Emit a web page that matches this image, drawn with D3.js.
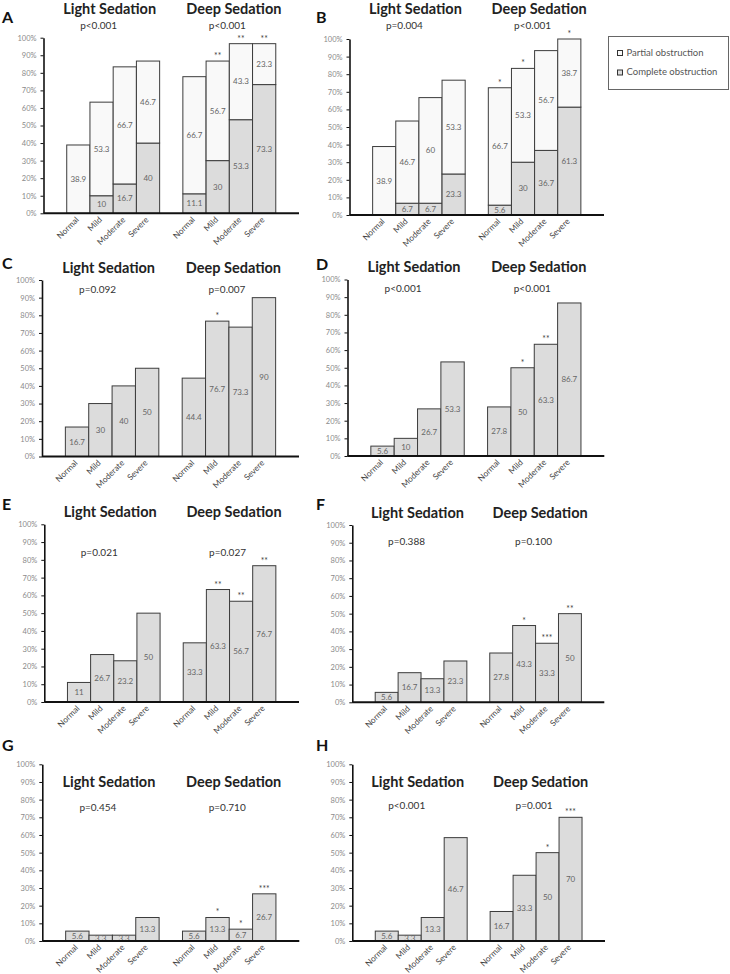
<!DOCTYPE html>
<html>
<head>
<meta charset="utf-8">
<script src="https://cdn.jsdelivr.net/npm/d3@7"></script>
<style>
  body { margin: 0; background: #fff; }
  text { font-family: Lato, "Open Sans", sans-serif; }
</style>
</head>
<body>
<svg id="chart" width="730" height="974"></svg>
<script>

// categories / groups
const cats = ['Normal', 'Mild', 'Moderate', 'Severe'];
const groups = ['Light Sedation', 'Deep Sedation'];
const yTicks = [0, 10, 20, 30, 40, 50, 60, 70, 80, 90, 100];
const legendItems = ['Partial obstruction', 'Complete obstruction'];

// A: stacked, complete + partial
const aLightComplete = [0, 10, 16.7, 40];
const aLightPartial  = [38.9, 53.3, 66.7, 46.7];
const aDeepComplete  = [11.1, 30, 53.3, 73.3];
const aDeepPartial   = [66.7, 56.7, 43.3, 23.3];
const aP = ['p<0.001', 'p<0.001'];
const aStars = ['', '**', '**', '**'];

// B: stacked
const bLightComplete = [0, 6.7, 6.7, 23.3];
const bLightPartial  = [38.9, 46.7, 60, 53.3];
const bDeepComplete  = [5.6, 30, 36.7, 61.3];
const bDeepPartial   = [66.7, 53.3, 56.7, 38.7];
const bP = ['p=0.004', 'p<0.001'];
const bStars = ['*', '*', '', '*'];

// C - H: single series
const cLight = [16.7, 30, 40, 50];
const cDeep  = [44.4, 76.7, 73.3, 90];
const cP = ['p=0.092', 'p=0.007'];
const cStars = ['', '*', '', ''];

const dLight = [5.6, 10, 26.7, 53.3];
const dDeep  = [27.8, 50, 63.3, 86.7];
const dP = ['p<0.001', 'p<0.001'];
const dStars = ['', '*', '**', ''];

const eLight = [11, 26.7, 23.2, 50];
const eDeep  = [33.3, 63.3, 56.7, 76.7];
const eP = ['p=0.021', 'p=0.027'];
const eStars = ['', '**', '**', '**'];

const fLight = [5.6, 16.7, 13.3, 23.3];
const fDeep  = [27.8, 43.3, 33.3, 50];
const fP = ['p=0.388', 'p=0.100'];
const fStars = ['', '*', '***', '**'];

const gLight = [5.6, 3.3, 3.3, 13.3];
const gDeep  = [5.6, 13.3, 6.7, 26.7];
const gP = ['p=0.454', 'p=0.710'];
const gStars = ['', '*', '*', '***'];

// H: bar heights as drawn, printed labels differ for two bars
const hLight = [5.6, 3.3, 13.3, 58.5];
const hLightLabels = ['5.6', '3.3', '13.3', '46.7'];
const hDeep  = [16.7, 37.2, 50, 70];
const hDeepLabels = ['16.7', '33.3', '50', '70'];
const hP = ['p<0.001', 'p=0.001'];
const hStars = ['', '', '*', '***'];

const panels = [
    {id: 'A', light: [aLightComplete, aLightPartial], deep: [aDeepComplete, aDeepPartial], p: aP, stars: aStars},
    {id: 'B', light: [bLightComplete, bLightPartial], deep: [bDeepComplete, bDeepPartial], p: bP, stars: bStars},
    {id: 'C', light: [cLight], deep: [cDeep], p: cP, stars: cStars},
    {id: 'D', light: [dLight], deep: [dDeep], p: dP, stars: dStars},
    {id: 'E', light: [eLight], deep: [eDeep], p: eP, stars: eStars},
    {id: 'F', light: [fLight], deep: [fDeep], p: fP, stars: fStars},
    {id: 'G', light: [gLight], deep: [gDeep], p: gP, stars: gStars},
    {id: 'H', light: [hLight], deep: [hDeep], p: hP, stars: hStars,
        lightLabels: [hLightLabels], deepLabels: [hDeepLabels]}
];

// layout per panel (pixels)
const layout = {
    A: {x0: 43.5, x1: 299, yTop: 37.7, yBase: 213.3, titleY: 13.5, pY: 29, letterX: 2, letterY: 23},
    B: {x0: 349.5, x1: 604, yTop: 39, yBase: 215, titleY: 13.5, pY: 29, letterX: 316, letterY: 23},
    C: {x0: 42, x1: 299, yTop: 280, yBase: 456.5, titleY: 272.7, pY: 293.3, letterX: 2, letterY: 269},
    D: {x0: 347.5, x1: 604.3, yTop: 279.5, yBase: 456, titleY: 271.7, pY: 291.7, letterX: 316, letterY: 270},
    E: {x0: 44.3, x1: 299, yTop: 524.3, yBase: 702, titleY: 516.7, pY: 555.7, letterX: 2, letterY: 510},
    F: {x0: 352.3, x1: 604.3, yTop: 525, yBase: 702.3, titleY: 518, pY: 545, letterX: 316, letterY: 510},
    G: {x0: 42.3, x1: 299.3, yTop: 764.3, yBase: 941, titleY: 786.7, pY: 811, letterX: 2, letterY: 751},
    H: {x0: 352.3, x1: 605, yTop: 764.3, yBase: 941, titleY: 787.3, pY: 809, letterX: 316, letterY: 751}
};

const fills = ['#dcdcdc', '#f9f9f9'];   // complete, partial
const svg = d3.select('#chart');

panels.forEach(p => drawPanel(p, layout[p.id]));
drawLegend();


function drawPanel (p, lay) {
    const g = svg.append('g').attr('class', 'panel-' + p.id);

    const keys = ['padL'].concat(cats.map(c => 'L' + c), ['gap'], cats.map(c => 'D' + c), ['padR']);
    const x = d3.scaleBand().domain(keys).range([lay.x0, lay.x1]);
    const y = d3.scaleLinear().domain([0, 100]).range([lay.yBase, lay.yTop]);
    const bw = x.bandwidth();

    // y axis
    const ax = g.append('g')
        .attr('transform', `translate(${lay.x0},0)`)
        .call(d3.axisLeft(y).tickValues(yTicks).tickFormat(d => d + '%').tickSize(3).tickSizeOuter(0).tickPadding(4));
    ax.select('.domain').attr('stroke', '#111').attr('stroke-width', 1.6);
    ax.selectAll('.tick line').attr('stroke', '#111');
    ax.selectAll('.tick text')
        .attr('font-family', 'Lato, sans-serif')
        .attr('font-size', 7.5)
        .attr('fill', '#8a8a8a');

    // bars
    [['L', p.light, p.lightLabels], ['D', p.deep, p.deepLabels]].forEach(([pre, series, labels]) => {
        cats.forEach((c, i) => {
            const cx = x(pre + c) + bw / 2;
            let base = 0;
            series.forEach((s, k) => {
                const v = s[i];
                if (v <= 0) return;
                const fill = series.length === 1 ? fills[0] : fills[k];
                g.append('rect')
                    .attr('x', x(pre + c))
                    .attr('y', y(base + v))
                    .attr('width', bw)
                    .attr('height', y(base) - y(base + v))
                    .attr('fill', fill)
                    .attr('stroke', '#3c3c3c')
                    .attr('stroke-width', 1);
                g.append('text')
                    .attr('x', cx)
                    .attr('y', y(base + v / 2))
                    .attr('dy', '0.35em')
                    .attr('text-anchor', 'middle')
                    .attr('font-size', 8)
                    .attr('fill', '#666')
                    .text(labels ? labels[k][i] : String(v));
                base += v;
            });
            const star = pre === 'D' ? p.stars[i] : '';
            if (star) {
                g.append('text')
                    .attr('x', cx)
                    .attr('y', y(base) - 2)
                    .attr('text-anchor', 'middle')
                    .attr('font-size', 8.5)
                    .attr('fill', '#444')
                    .text(star);
            }
            // category label
            g.append('text')
                .attr('transform', `translate(${cx + 1},${lay.yBase + 7}) rotate(-45)`)
                .attr('text-anchor', 'end')
                .attr('font-size', 8.3)
                .attr('fill', '#444')
                .text(c);
        });
    });

    // base line
    g.append('line')
        .attr('x1', lay.x0).attr('x2', lay.x1)
        .attr('y1', lay.yBase).attr('y2', lay.yBase)
        .attr('stroke', '#111')
        .attr('stroke-width', 2);

    // group titles and p-values
    const lightC = x('LMild') + bw;
    const deepC = x('DMild') + bw;
    g.append('text')
        .attr('x', lightC - 3.5).attr('y', lay.titleY)
        .attr('text-anchor', 'middle')
        .attr('font-weight', 'bold').attr('font-size', 14.5).attr('fill', '#222')
        .text(groups[0]);
    g.append('text')
        .attr('x', deepC + 4.5).attr('y', lay.titleY)
        .attr('text-anchor', 'middle')
        .attr('font-weight', 'bold').attr('font-size', 14.5).attr('fill', '#222')
        .text(groups[1]);
    g.append('text')
        .attr('x', lightC - 14.5).attr('y', lay.pY)
        .attr('text-anchor', 'middle')
        .attr('font-family', '"Liberation Sans", Arial, sans-serif')
        .attr('font-size', 10).attr('fill', '#333')
        .text(p.p[0]);
    g.append('text')
        .attr('x', deepC - 2).attr('y', lay.pY)
        .attr('text-anchor', 'middle')
        .attr('font-family', '"Liberation Sans", Arial, sans-serif')
        .attr('font-size', 10).attr('fill', '#333')
        .text(p.p[1]);

    // panel letter
    g.append('text')
        .attr('x', lay.letterX).attr('y', lay.letterY)
        .attr('font-family', '"Liberation Sans", Arial, sans-serif')
        .attr('font-weight', 'bold').attr('font-size', 16).attr('fill', '#111')
        .text(p.id);
}

function drawLegend () {
    const lg = svg.append('g').attr('class', 'legend');
    lg.append('rect')
        .attr('x', 608.5).attr('y', 36.5)
        .attr('width', 120).attr('height', 53)
        .attr('fill', '#fff')
        .attr('stroke', '#666')
        .attr('stroke-width', 1);
    legendItems.forEach((t, i) => {
        const yy = 50.5 + i * 19.5;
        lg.append('rect')
            .attr('x', 617.5).attr('y', yy)
            .attr('width', 5).attr('height', 5)
            .attr('fill', fills[1 - i])
            .attr('stroke', '#333')
            .attr('stroke-width', 1);
        lg.append('text')
            .attr('x', 626.5).attr('y', yy + 5)
            .attr('font-size', 9.5)
            .attr('fill', '#555')
            .text(t);
    });
}
</script>
</body>
</html>
